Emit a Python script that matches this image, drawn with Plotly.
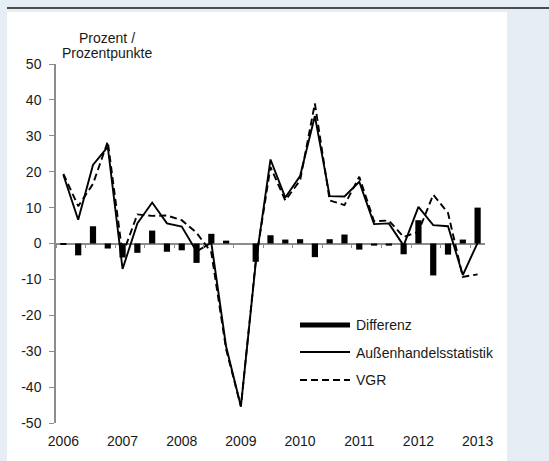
import plotly.graph_objects as go

# ---------------- data ----------------
quarters = [f"{y}Q{q}" for y in range(2006, 2013) for q in range(1, 5)] + ["2013Q1"]

aussenhandel = [19.1, 6.6, 21.9, 26.9,
                -7.1, 5.6, 11.4, 5.6,
                4.7, -2.2, 0.2, -28.7,
                -45.4, -5.5, 23.4, 12.8,
                18.8, 35.5, 13.2, 13.1,
                17.2, 5.4, 5.6, -0.6,
                10.2, 5.1, 4.8, -8.8,
                0.2]

vgr = [19.4, 10.4, 16.6, 28.4,
       -3.1, 8.1, 7.7, 7.8,
       6.5, 3.0, -2.5, -29.5,
       -45.4, -5.0, 21.3, 12.0,
       17.6, 39.0, 12.0, 10.7,
       18.6, 6.2, 6.4, 1.8,
       3.3, 13.6, 8.5, -9.3,
       -8.6]

differenz = [-0.3, -3.3, 4.8, -1.4,
             -3.9, -2.6, 3.6, -2.3,
             -1.9, -5.4, 2.7, 0.8,
             0.0, -5.1, 2.3, 1.1,
             1.2, -3.8, 1.2, 2.5,
             -1.7, -0.6, -0.6, -3.0,
             6.5, -8.9, -3.1, 1.1,
             10.0]

x_tick_vals = ["2006Q1", "2007Q1", "2008Q1", "2009Q1", "2010Q1", "2011Q1", "2012Q1", "2013Q1"]
x_tick_text = ["2006", "2007", "2008", "2009", "2010", "2011", "2012", "2013"]
y_tick_vals = [-50, -40, -30, -20, -10, 0, 10, 20, 30, 40, 50]
y_tick_text = ["-50", "-40", "-30", "-20", "-10", "0", "10", "20", "30", "40", "50"]

series_names = ["Differenz", "Außenhandelsstatistik", "VGR"]
y_title_lines = ["Prozent /", "Prozentpunkte"]

# ---------------- layout geometry ----------------
W, H = 549, 461
L, R, T, B = 56, 64, 64, 38
PW, PH = W - L - R, H - T - B

def px(x):
    return (x - L) / PW

def py(y):
    return (H - B - y) / PH

FONT = "Liberation Sans, Arial, sans-serif"
FS = 14
TXT = "#1a1a1a"
AX = "#8c8c8c"
BG = "#e7edf5"

fig = go.Figure()

fig.add_trace(go.Bar(x=quarters, y=differenz, name=series_names[0],
                     marker=dict(color="black", line=dict(width=0)),
                     width=0.42, showlegend=False))
fig.add_trace(go.Scatter(x=quarters, y=aussenhandel, name=series_names[1],
                         mode="lines", line=dict(color="black", width=1.9),
                         showlegend=False))
fig.add_trace(go.Scatter(x=quarters, y=vgr, name=series_names[2],
                         mode="lines", line=dict(color="black", width=1.9, dash="7px,4px"),
                         showlegend=False))
# helper trace carrying the category tick axis on the zero line
fig.add_trace(go.Scatter(x=quarters, y=[0] * len(quarters), xaxis="x2",
                         mode="lines", line=dict(width=0, color="rgba(0,0,0,0)"),
                         hoverinfo="skip", showlegend=False))

shapes = [
    # white panel
    dict(type="rect", xref="paper", yref="paper", layer="below",
         x0=px(7), x1=px(507), y0=py(470), y1=py(12),
         fillcolor="white", line=dict(width=0)),
    # dark rule at top
    dict(type="line", xref="paper", yref="paper",
         x0=px(7), x1=px(560), y0=py(8), y1=py(8),
         line=dict(color="#4d4d4d", width=2)),
    # legend symbols
    dict(type="rect", xref="paper", yref="paper",
         x0=px(300), x1=px(350), y0=py(327.5), y1=py(322.5),
         fillcolor="black", line=dict(width=0)),
    dict(type="line", xref="paper", yref="paper",
         x0=px(300), x1=px(350), y0=py(352), y1=py(352),
         line=dict(color="black", width=1.9)),
    dict(type="line", xref="paper", yref="paper",
         x0=px(300), x1=px(350), y0=py(380), y1=py(380),
         line=dict(color="black", width=1.9, dash="7px,4px")),
]

annotations = [
    dict(x=px(107), y=py(38), xref="paper", yref="paper", text=y_title_lines[0],
         showarrow=False, xanchor="center", yanchor="middle",
         font=dict(family=FONT, size=FS, color=TXT)),
    dict(x=px(107), y=py(53), xref="paper", yref="paper", text=y_title_lines[1],
         showarrow=False, xanchor="center", yanchor="middle",
         font=dict(family=FONT, size=FS, color=TXT)),
]
for name, yy in zip(series_names, [325, 352.5, 380]):
    annotations.append(dict(x=px(354), y=py(yy), xref="paper", yref="paper", text=name,
                            showarrow=False, xanchor="left", yanchor="middle",
                            font=dict(family=FONT, size=FS, color=TXT)))

fig.update_layout(
    width=W, height=H,
    margin=dict(l=L, r=R, t=T, b=B, pad=0),
    paper_bgcolor=BG, plot_bgcolor="white",
    font=dict(family=FONT, size=FS, color=TXT),
    shapes=shapes, annotations=annotations,
    xaxis=dict(type="category", categoryorder="array", categoryarray=quarters,
               range=[-0.5, len(quarters) - 0.5],
               showline=False, showgrid=False, zeroline=False, ticks="",
               tickmode="array", tickvals=x_tick_vals, ticktext=x_tick_text,
               ticklabelstandoff=8, tickfont=dict(family=FONT, size=FS, color=TXT)),
    xaxis2=dict(type="category", categoryorder="array", categoryarray=quarters,
                range=[-0.5, len(quarters) - 0.5], overlaying="x",
                anchor="free", position=0.5, showline=False, showgrid=False,
                zeroline=False, showticklabels=False, ticks="outside",
                tickson="boundaries", ticklen=3, tickwidth=1, tickcolor=AX),
    yaxis=dict(range=[-50, 50], tickmode="array", tickvals=y_tick_vals, ticktext=y_tick_text,
               showgrid=False, showline=True, linecolor=AX, linewidth=1.5,
               ticks="outside", ticklen=5, tickcolor=AX, tickwidth=1,
               ticklabelstandoff=5,
               zeroline=True, zerolinecolor=AX, zerolinewidth=1.5,
               tickfont=dict(family=FONT, size=FS, color=TXT)),
)

fig.write_html("out.html", config={"displayModeBar": False},
               post_script="document.body.style.margin='0';document.body.style.overflow='hidden';")
